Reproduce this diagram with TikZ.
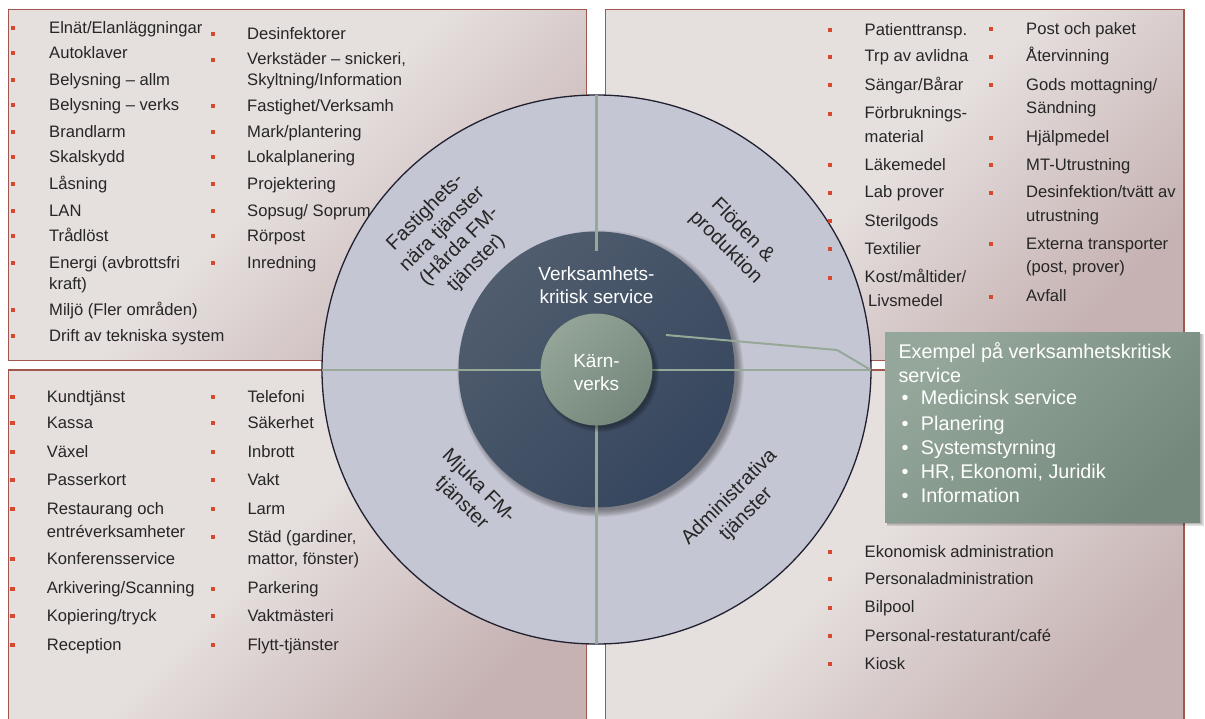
\documentclass[tikz,border=0pt]{standalone}
\usepackage{fontspec}
\setmainfont{Liberation Sans}
\usetikzlibrary{calc}

% palette
\definecolor{boxlight}{RGB}{229,223,222}
\definecolor{boxdark}{RGB}{198,178,178}
\definecolor{boxedge}{RGB}{160,88,78}
\definecolor{bulletred}{RGB}{214,72,48}
\definecolor{ringfill}{RGB}{197,198,211}
\definecolor{ringedge}{RGB}{32,32,48}
\definecolor{midA}{RGB}{80,93,110}
\definecolor{midB}{RGB}{54,70,94}
\definecolor{coreA}{RGB}{148,165,152}
\definecolor{coreB}{RGB}{116,135,122}
\definecolor{divider}{RGB}{150,168,152}
\definecolor{noteA}{RGB}{148,167,154}
\definecolor{noteB}{RGB}{116,136,124}
\definecolor{txt}{RGB}{38,38,38}

% panel background: light, darkening towards the lower right corner
\pgfdeclareverticalshading{panelshade}{100bp}{color(0bp)=(boxdark); color(25bp)=(boxdark); color(52bp)=(boxlight); color(100bp)=(boxlight)}

\newcommand\listfont{\fontsize{16.6}{20}\selectfont}
\newcommand\labelfont{\fontsize{20}{24}\selectfont}
\newcommand\corefont{\fontsize{19}{23}\selectfont}
\newcommand\notefont{\fontsize{19.8}{24}\selectfont}

\tikzset{
  panel/.style={shade, shading=panelshade, shading angle=45, draw=boxedge, line width=1.3pt},
  item/.style={anchor=base west, inner sep=0pt, font=\listfont, text=txt},
  sqdot/.style={rectangle, fill=bulletred, draw=none, minimum size=4.3pt, inner sep=0pt},
  sector/.style={align=center, font=\labelfont, text=txt, inner sep=0pt},
  coretext/.style={align=center, font=\corefont, text=white, inner sep=0pt},
  divline/.style={draw=divider, line width=2.8pt},
  pointer/.style={draw=divider, line width=2pt},
  notebox/.style={rectangle, shade, top color=noteA, bottom color=noteB, shading angle=45,
                  draw=none, minimum width=315pt, minimum height=190pt, inner sep=0pt, anchor=north west},
  noteline/.style={anchor=base west, inner sep=0pt, font=\notefont, text=white},
}

\begin{document}
\begin{tikzpicture}[x=1pt,y=-1pt]
\useasboundingbox (0,0) rectangle (1205,718);
\fill[white] (0,0) rectangle (1205,718);

% four panels
\path[panel] (8.5,9.3) rectangle (586.7,360.5);
\path[panel] (605.3,9.3) rectangle (1184,360.5);
\path[panel] (8.5,370) rectangle (586.7,726);
\path[panel] (605.3,370) rectangle (1184,726);

% outer ring
\coordinate (O) at (596.5,369.5);
\fill[ringfill] (O) circle[radius=274.5];
\draw[ringedge, line width=1.3pt] (O) circle[radius=274.5];

% soft shadow of the middle disc
\foreach \k in {0,...,7}
  \fill[black, opacity=0.05] ($(O)+(4,4)$) circle[radius=137+\k*0.9];
\shade[top color=midA, bottom color=midB, shading angle=45] (O) circle[radius=138];

% dividers
\draw[divline] (596.5,94.5) -- (596.5,251);
\draw[divline] (322,370) -- (871,370);
\draw[divline] (596.5,420) -- (596.5,644);

% core disc with shadow
\foreach \k in {0,...,5}
  \fill[black, opacity=0.06] ($(O)+(3,3)$) circle[radius=55+\k*0.9];
\shade[top color=coreA, bottom color=coreB, shading angle=45] (O) circle[radius=56];

\node[coretext] (crit) at (596.5,285) {Verksamhets-\\kritisk service};
\node[coretext] (core) at (596.5,373) {Kärn-\\verks};

% sector labels
\node[sector, rotate=45]  (hard)  at (451,238) {Fastighets-\\nära tjänster\\(Hårda FM-\\tjänster)};
\node[sector, rotate=-45] (flow)  at (734,239) {Flöden \&\\produktion};
\node[sector, rotate=-45] (soft)  at (470,495) {Mjuka FM-\\tjänster};
\node[sector, rotate=45]  (admin) at (738,506) {Administrativa\\tjänster};

% item lists: y / bullet / text
\foreach \y/\b/\t [count=\i] in {
  27.3/1/{Elnät/Elanläggningar}, 52.3/1/{Autoklaver}, 79.3/1/{Belysning – allm},
  104.3/1/{Belysning – verks}, 131.3/1/{Brandlarm}, 156.3/1/{Skalskydd},
  183.3/1/{Låsning}, 210/1/{LAN}, 235.3/1/{Trådlöst}, 262.3/1/{Energi (avbrottsfri},
  283.3/0/{kraft)}, 309.3/1/{Miljö (Fler områden)}, 335/1/{Drift av tekniska system}}{
  \node[item] (hardA\i) at (49,\y+6) {\t};
  \ifnum\b=1 \node[sqdot] (hardAb\i) at (13,\y+1) {};\fi
}
\foreach \y/\b/\t [count=\i] in {
  33.3/1/{Desinfektorer}, 58.7/1/{Verkstäder – snickeri,}, 79.3/0/{Skyltning/Information},
  105.3/1/{Fastighet/Verksamh}, 131.3/1/{Mark/plantering}, 156.3/1/{Lokalplanering},
  183.3/1/{Projektering}, 210/1/{Sopsug/ Soprum}, 235.3/1/{Rörpost}, 262.3/1/{Inredning}}{
  \node[item] (hardB\i) at (247,\y+6) {\t};
  \ifnum\b=1 \node[sqdot] (hardBb\i) at (213,\y+1) {};\fi
}
\foreach \y/\b/\t [count=\i] in {
  29.3/1/{Patienttransp.}, 55.7/1/{Trp av avlidna}, 84.3/1/{Sängar/Bårar},
  112.7/1/{Förbruknings-}, 136/0/{material}, 164.3/1/{Läkemedel}, 191.7/1/{Lab prover},
  220.3/1/{Sterilgods}, 248.3/1/{Textilier}, 276.7/1/{Kost/måltider/}}{
  \node[item] (flowA\i) at (864.5,\y+6) {\t};
  \ifnum\b=1 \node[sqdot] (flowAb\i) at (830,\y+1) {};\fi
}
\node[item] (flowA11) at (868,306) {Livsmedel};
\foreach \y/\b/\t [count=\i] in {
  28.3/1/{Post och paket}, 55.7/1/{Återvinning}, 84.3/1/{Gods mottagning/},
  107.7/0/{Sändning}, 136.7/1/{Hjälpmedel}, 164.3/1/{MT-Utrustning},
  191.7/1/{Desinfektion/tvätt av}, 215/0/{utrustning}, 243.3/1/{Externa transporter},
  266.7/0/{(post, prover)}, 295.7/1/{Avfall}}{
  \node[item] (flowB\i) at (1026,\y+6) {\t};
  \ifnum\b=1 \node[sqdot] (flowBb\i) at (991,\y+1) {};\fi
}
\foreach \y/\b/\t [count=\i] in {
  396/1/{Kundtjänst}, 422.3/1/{Kassa}, 451/1/{Växel}, 479.3/1/{Passerkort},
  508.3/1/{Restaurang och}, 531.7/0/{entréverksamheter}, 558.3/1/{Konferensservice},
  587.7/1/{Arkivering/Scanning}, 615.3/1/{Kopiering/tryck}, 644.3/1/{Reception}}{
  \node[item] (softA\i) at (46.7,\y+6) {\t};
  \ifnum\b=1 \node[sqdot] (softAb\i) at (12.5,\y+1) {};\fi
}
\foreach \y/\b/\t [count=\i] in {
  396/1/{Telefoni}, 422.3/1/{Säkerhet}, 451/1/{Inbrott}, 479.3/1/{Vakt}, 508.3/1/{Larm},
  536/1/{Städ (gardiner,}, 558.3/0/{mattor, fönster)}, 587.7/1/{Parkering},
  615.3/1/{Vaktmästeri}, 644.3/1/{Flytt-tjänster}}{
  \node[item] (softB\i) at (247.3,\y+6) {\t};
  \ifnum\b=1 \node[sqdot] (softBb\i) at (213.3,\y+1) {};\fi
}
\foreach \y/\b/\t [count=\i] in {
  551/1/{Ekonomisk administration}, 578.3/1/{Personaladministration}, 606.7/1/{Bilpool},
  635/1/{Personal-restaturant/café}, 663.3/1/{Kiosk}}{
  \node[item] (adminA\i) at (864.5,\y+6) {\t};
  \ifnum\b=1 \node[sqdot] (adminAb\i) at (830,\y+1) {};\fi
}

% callout with its shadow
\foreach \k in {0,...,4}
  \fill[black, opacity=0.06] (887,334) rectangle (1201.5+\k*0.7,523.5+\k*0.7);
\node[notebox] (note) at (885,332) {};
\node[noteline] (noteT1) at (898.3,358.8) {Exempel på verksamhetskritisk};
\node[noteline] (noteT2) at (898.3,382) {service};
\foreach \y/\t [count=\i] in {397.7/{Medicinsk service}, 423.3/{Planering}, 447.7/{Systemstyrning},
  471.7/{HR, Ekonomi, Juridik}, 495/{Information}}{
  \node[noteline] (noteD\i) at (901.5,\y+7) {•};
  \node[noteline] (noteI\i) at (920.7,\y+7) {\t};
}

% callout pointer into the middle disc
\coordinate (ptrHead) at (666,335);
\coordinate (ptrBend) at (837,350);
\coordinate (ptrTail) at (871,370);
\draw[pointer] (ptrTail) -- (ptrBend) -- (ptrHead);
\end{tikzpicture}
\end{document}
